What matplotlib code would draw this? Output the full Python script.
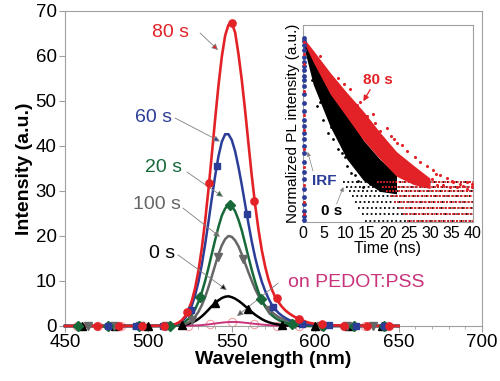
import matplotlib
matplotlib.use("Agg")
import matplotlib.pyplot as plt
from matplotlib.ticker import MultipleLocator, NullLocator

plt.rcParams['font.family'] = ['Liberation Sans', 'DejaVu Sans']

# ---- main spectra ----
wl = [450, 480, 510, 516, 518, 520, 522, 524, 526, 528, 530, 532, 534, 536, 538, 540,
      542, 544, 546, 548, 550, 552, 554, 556, 558, 560, 562, 564, 566, 568, 570, 572,
      574, 576, 578, 580, 582, 584, 586, 588, 590, 592, 594, 596, 600, 610, 630, 650]

s80 = [0, 0, 0.05, 0.39, 0.73, 1.27, 2.16, 3.53, 5.53, 8.4, 12.3, 17.2, 23.3, 30.3, 38.0, 45.9,
       53.4, 59.8, 64.5, 66.9, 67.3, 65.2, 60.4, 54.6, 47.8, 40.5, 33.3, 26.9, 21.4, 16.8, 13.2, 10.3,
       8.1, 6.4, 5.3, 4.3, 3.5, 2.9, 2.4, 1.95, 1.68, 1.3, 1.0, 0.75, 0.45, 0.15, 0.05, 0]
s60 = [0, 0, 0.03, 0.32, 0.59, 1.04, 1.76, 2.9, 4.5, 6.8, 9.8, 13.6, 18.1, 23.1, 28.3, 33.3,
       37.7, 40.9, 42.6, 42.6, 41.3, 38.8, 35.3, 31.3, 27.0, 22.7, 18.7, 15.2, 12.3, 9.8, 7.8, 6.1,
       4.7, 3.7, 2.9, 2.3, 1.8, 1.4, 1.1, 0.85, 0.65, 0.5, 0.4, 0.3, 0.2, 0.08, 0.02, 0]
s20 = [0, 0, 0.02, 0.19, 0.33, 0.58, 0.98, 1.59, 2.47, 3.7, 5.36, 7.45, 9.98, 12.9, 16.0, 19.1,
       22.0, 24.5, 26.1, 26.9, 26.6, 25.5, 23.6, 21.2, 18.3, 15.3, 12.4, 9.8, 7.5, 5.7, 4.3, 3.2,
       2.4, 1.8, 1.35, 1.0, 0.75, 0.55, 0.4, 0.3, 0.22, 0.16, 0.12, 0.09, 0.05, 0.02, 0, 0]
s100 = [0, 0, 0.01, 0.07, 0.13, 0.25, 0.45, 0.78, 1.3, 2.07, 3.15, 4.6, 6.4, 8.6, 11.0, 13.5,
        15.9, 17.9, 19.3, 20.0, 19.8, 19.0, 17.7, 15.9, 13.9, 11.9, 10.0, 8.2, 6.7, 5.5, 4.5, 3.8,
        3.1, 2.5, 2.0, 1.6, 1.25, 0.95, 0.7, 0.5, 0.38, 0.28, 0.2, 0.15, 0.08, 0.03, 0, 0]
s0 = [0, 0, 0, 0.05, 0.1, 0.17, 0.29, 0.47, 0.73, 1.08, 1.55, 2.14, 2.83, 3.6, 4.4, 5.1,
      5.7, 6.2, 6.5, 6.6, 6.4, 6.07, 5.6, 5.04, 4.4, 3.76, 3.1, 2.5, 2.0, 1.52, 1.14, 0.85,
      0.62, 0.45, 0.32, 0.22, 0.15, 0.1, 0.07, 0.05, 0.03, 0.02, 0.01, 0, 0, 0, 0, 0]
spedot = [0, 0, 0, 0, 0.01, 0.02, 0.03, 0.05, 0.08, 0.11, 0.15, 0.2, 0.28, 0.35, 0.45, 0.55,
          0.65, 0.74, 0.82, 0.87, 0.9, 0.89, 0.86, 0.8, 0.72, 0.64, 0.55, 0.47, 0.39, 0.31, 0.25, 0.19,
          0.14, 0.1, 0.07, 0.05, 0.03, 0.02, 0.01, 0, 0, 0, 0, 0, 0, 0, 0, 0]

# marker positions
m80_x = [469, 482.5, 496, 509.5, 523, 536.5, 550, 563.5, 577, 590.5, 604, 617.5, 631, 644.5]
m80_y = [0, 0, 0, 0.1, 3.0, 31.8, 67.3, 27.8, 6.2, 1.6, 0.4, 0.1, 0.05, 0]
m60_x = [476, 492.5, 509, 525.5, 541, 559, 575, 592, 608, 624.5, 641]
m60_y = [0, 0, 0.03, 3.5, 35.6, 24.9, 4.2, 0.5, 0.15, 0.05, 0]
m20_x = [458, 476, 494.5, 513, 531, 549, 567.5, 586, 604.5, 623, 641.5]
m20_y = [0, 0, 0, 0.1, 6.4, 26.9, 5.9, 0.4, 0.05, 0, 0]
m100_x = [464, 479.5, 495, 510.5, 526, 541.5, 557, 572.5, 588, 603.5, 619, 634.5]
m100_y = [0, 0, 0, 0.01, 1.3, 15.3, 14.9, 3.6, 0.5, 0.07, 0, 0]
m0_x = [460, 480, 500, 520, 540, 560, 580, 600, 620, 640]
m0_y = [0, 0, 0, 0.17, 5.1, 3.76, 0.22, 0, 0, 0]
mped_x = [457, 470, 483.5, 497, 510, 523.5, 537, 550, 563.5, 577, 590, 603.5, 617, 630, 643.5]
mped_y = [0, 0, 0, 0, 0, 0.06, 0.4, 0.9, 0.5, 0.08, 0, 0, 0, 0, 0]

# ---- inset: decay traces ----
band_t = [0.3, 2.4, 6.35, 10.3, 14.2, 18.1, 22.0, 26.0, 29.9]
red_lo = [116.6, 90.0, 58.0, 42.0, 30.5, 23.5, 18.5, 16.5, 15.6]
red_hi = [124.0, 106.0, 78.0, 59.0, 45.5, 34.0, 26.0, 21.5, 18.0]
blk_t = [0.3, 2.4, 6.35, 10.3, 14.2, 18.1, 22.0]
blk_lo = [108.0, 66.0, 37.0, 23.5, 17.5, 15.0, 14.5]
blk_hi = [124.0, 100.0, 63.0, 44.0, 30.5, 23.4, 19.0]

levels = [10, 11, 12, 13, 14, 15, 16, 17]
red_start = [24.5, 23.5, 22.5, 21.5, 20.5, 19.5, 18.5, 17.5]
blk_start = [14.5, 13.8, 13.0, 12.3, 11.6, 10.9, 10.2, 9.5]

red_dot_t = [12.6, 15.1, 18.1, 22.0, 24.4, 26.4, 27.5, 29.1, 30.7, 32.2, 33.8, 35.4, 36.9, 38.5,
             39.7, 31.5, 34.6, 28.3, 24.8, 29.5, 26.0, 27.5, 30.3, 33.0, 36.2, 38.5, 39.7,
             4.0, 8.2, 11.0, 13.5, 16.4, 19.8, 21.3, 23.2, 9.6, 16.9, 20.6, 31.2, 35.0, 37.6]
red_dot_y = [49.9, 42.5, 34.7, 29.2, 26.3, 24.0, 22.6, 21.4, 20.2, 18.8, 18.0, 17.2, 16.7, 17.0,
             16.7, 16.3, 15.9, 18.6, 20.3, 17.0, 17.8, 17.0, 17.8, 16.3, 15.9, 15.5, 15.9,
             98.0, 72.0, 62.0, 52.0, 44.0, 36.0, 31.0, 28.5, 66.0, 38.5, 32.5, 19.2, 17.4, 16.2]
blk_dot_t = [3.2, 4.8, 7.1, 9.1, 10.3, 11.4, 13.0, 14.2, 15.8, 12.2, 8.3, 5.9, 2.0, 4.0, 6.5, 9.8]
blk_dot_y = [48.8, 40.6, 30.9, 25.7, 21.4, 19.3, 17.4, 15.9, 16.7, 18.8, 26.9, 33.9, 70.0, 52.0, 36.5, 24.0]

irf_y = [124.8, 121, 113.9, 106.4, 97.1, 90.6, 84.6, 80.8, 73.7, 70.4, 64.2, 57.4, 51.1, 45.6,
         40.6, 37.1, 33.9, 30.9, 28.2, 25.7, 22.4, 19.5, 17.8, 15.5, 13.8, 12.6, 11.5, 10.7, 10.1]
irf_red_y = [118, 100, 87, 60, 43, 35, 27, 21, 16.5, 13, 11]

RED = '#e32227'
BLUE = '#2b3d97'
GREEN = '#17693a'
GRAY = '#666666'
PINK = '#c8337a'
SPINE = '#a0a0a0'

fig = plt.figure(figsize=(5.0, 3.81), dpi=100)
ax = fig.add_axes([0.13, 0.1444, 0.834, 0.827])

series = [
    (spedot, mped_x, mped_y, PINK, 'o', 6, 1.4),
    (s0, m0_x, m0_y, 'black', '^', 5.5, 1.8),
    (s100, m100_x, m100_y, GRAY, 'v', 5.5, 1.8),
    (s20, m20_x, m20_y, GREEN, 'D', 4.8, 1.8),
    (s60, m60_x, m60_y, BLUE, 's', 4.6, 1.8),
    (s80, m80_x, m80_y, RED, 'o', 5.2, 1.9),
]
for ys, mx, my, c, mk, ms, lw in series:
    ax.plot(wl, ys, color=c, lw=lw, clip_on=False, zorder=3)
    if c == PINK:
        ax.plot(mx, my, ls='none', marker=mk, ms=ms, mfc='none', mec='#f2a0a8',
                mew=0.8, clip_on=False, zorder=2)
    else:
        ax.plot(mx, my, ls='none', marker=mk, ms=ms, color=c, clip_on=False, zorder=4)

ax.set_xlim(450, 700)
ax.set_ylim(0, 70)
ax.xaxis.set_major_locator(MultipleLocator(50))
ax.xaxis.set_minor_locator(MultipleLocator(10))
ax.yaxis.set_major_locator(MultipleLocator(10))
for sp in ax.spines.values():
    sp.set_color(SPINE)
    sp.set_linewidth(0.8)
ax.tick_params(which='major', direction='out', length=4, color=SPINE, labelsize=13.5, pad=2)
ax.tick_params(which='minor', direction='out', length=2.5, color=SPINE)
ax.set_xlabel('Wavelength (nm)', fontsize=14, fontweight='bold', labelpad=0)
ax.set_ylabel('Intensity (a.u.)', fontsize=14, fontweight='bold', labelpad=2)

labels = [
    ('80 s', RED, (513.5, 65.3), (531, 65.1), (541.7, 61.3)),
    ('60 s', BLUE, (502.8, 46.4), (516, 46.2), (542.9, 41.0)),
    ('20 s', GREEN, (508.8, 35.3), (523.1, 34.2), (544.7, 28.7)),
    ('100 s', GRAY, (505.2, 26.9), (520.7, 26.2), (542.9, 19.8)),
    ('0 s', 'black', (508.2, 16.2), (517.7, 15.8), (547, 8.0)),
]
for txt, c, pos, tail, head in labels:
    ax.text(pos[0], pos[1], txt, color=c, fontsize=14, ha='center', va='center')
    ax.annotate('', xy=head, xytext=tail,
                arrowprops=dict(arrowstyle='-|>', fc=c, ec='#808080', lw=0.6,
                                mutation_scale=9, shrinkA=0, shrinkB=0))
ax.text(624.5, 9.6, 'on PEDOT:PSS', color=PINK, fontsize=14, ha='center', va='center')
ax.annotate('', xy=(553.1, 2.2), xytext=(577.7, 9.5),
            arrowprops=dict(arrowstyle='-|>', fc='#555555', ec='#808080', lw=0.6,
                            mutation_scale=9, shrinkA=0, shrinkB=0))

# ---- inset ----
ins = fig.add_axes([0.606, 0.417, 0.34, 0.517])
ins.set_yscale('log')
ins.set_xlim(0, 40)
ins.set_ylim(9.8, 150)

ins.fill_between(blk_t, blk_lo, blk_hi, color='black', lw=0, zorder=2)
ins.hlines(levels, blk_start, 40, colors='black', lw=1.3, linestyles=(0, (1, 1.4)), zorder=2)
ins.scatter(blk_dot_t, blk_dot_y, s=4, color='black', lw=0, zorder=2)
ins.fill_between(band_t, red_lo, red_hi, color=RED, lw=0, zorder=3)
ins.hlines(levels, red_start, 40, colors=RED, lw=1.3, linestyles=(0, (1, 0.7)), zorder=3)
ins.scatter(red_dot_t, red_dot_y, s=5, color=RED, lw=0, zorder=3)
ins.scatter([0.25] * len(irf_y), irf_y, s=12, color=BLUE, lw=0, zorder=4, clip_on=False)
ins.scatter([0.35] * len(irf_red_y), irf_red_y, s=5, color=RED, lw=0, zorder=5, clip_on=False)

ins.xaxis.set_major_locator(MultipleLocator(5))
ins.yaxis.set_major_locator(NullLocator())
ins.yaxis.set_minor_locator(NullLocator())
ins.tick_params(axis='x', length=0, labelsize=11.5, pad=3)
for sp in ins.spines.values():
    sp.set_color(SPINE)
    sp.set_linewidth(0.8)
ins.set_xlabel('Time (ns)', fontsize=11.5, labelpad=0)
ins.set_ylabel('Normalized PL intensity (a.u.)', fontsize=11, labelpad=2)

ins.text(17.6, 70.4, '80 s', color=RED, fontsize=11, fontweight='bold', ha='center', va='center')
ins.annotate('', xy=(14.2, 52.3), xytext=(15.8, 61.4),
             arrowprops=dict(arrowstyle='-|>', color=RED, lw=0.9, mutation_scale=8,
                             shrinkA=0, shrinkB=0))
ins.text(5.06, 17.4, 'IRF', color=BLUE, fontsize=11, fontweight='bold', ha='center', va='center')
ins.annotate('', xy=(1.1, 25.9), xytext=(2.35, 19.9),
             arrowprops=dict(arrowstyle='-|>', color='#808080', lw=0.5, mutation_scale=6,
                             shrinkA=0, shrinkB=0))
ins.text(6.75, 11.5, '0 s', color='black', fontsize=11, fontweight='bold', ha='center', va='center')
ins.annotate('', xy=(9.5, 15.9), xytext=(7.9, 12.6),
             arrowprops=dict(arrowstyle='-|>', color='#808080', lw=0.5, mutation_scale=6,
                             shrinkA=0, shrinkB=0))

fig.savefig('out.png', dpi=100)
